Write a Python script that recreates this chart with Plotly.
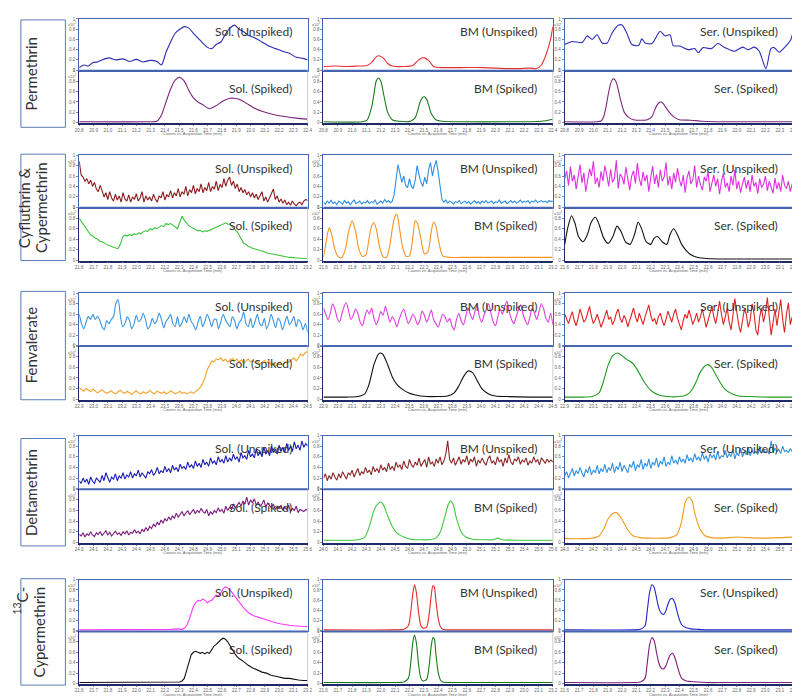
import numpy as np
import plotly.graph_objects as go

# ---------------- data (x in % of the time window, y as fraction of full scale) ----------------
row_names = ["Permethrin", "Cyfluthrin &|Cypermethrin", "Fenvalerate", "Deltamethrin", "<sup>13</sup>C-|Cypermethrin"]
sample_names = ["Sol.", "BM", "Ser."]
conditions = ["Unspiked", "Spiked"]
time_windows = [(20.8, 22.4), (21.6, 23.2), (22.9, 24.5), (24.0, 25.6), (21.6, 23.2)]

# Permethrin
perm_sol_u_x = [0, 2, 4, 6, 8, 10, 13, 16, 19, 22, 25, 28, 31, 34, 36, 38, 40, 42, 44, 46, 48, 50, 53, 56, 58, 60,
                62, 64, 66, 68, 70, 72, 74, 77, 80, 83, 86, 89, 92, 95, 98, 100]
perm_sol_u_y = [0.05, 0.1, 0.08, 0.15, 0.16, 0.2, 0.24, 0.2, 0.22, 0.17, 0.21, 0.16, 0.19, 0.17, 0.1, 0.35, 0.55,
                0.72, 0.8, 0.85, 0.82, 0.72, 0.58, 0.45, 0.42, 0.5, 0.55, 0.7, 0.82, 0.88, 0.8, 0.75, 0.68, 0.63,
                0.55, 0.47, 0.42, 0.37, 0.33, 0.25, 0.23, 0.2]
perm_sol_s_x = [0, 30, 34, 36, 38, 40, 42, 44, 46, 48, 50, 52, 54, 57, 60, 63, 66, 68, 70, 73, 76, 80, 85, 90, 95, 100]
perm_sol_s_y = [0.02, 0.02, 0.03, 0.15, 0.4, 0.65, 0.82, 0.87, 0.8, 0.62, 0.48, 0.4, 0.35, 0.27, 0.33, 0.42, 0.47,
                0.47, 0.45, 0.38, 0.3, 0.22, 0.16, 0.12, 0.09, 0.07]
perm_bm_u_x = [0, 5, 10, 15, 19, 21, 23, 24, 26, 28, 30, 35, 39, 41, 43, 44, 46, 48, 50, 55, 60, 70, 80, 85, 90, 93,
               95, 97, 99, 100]
perm_bm_u_y = [0.07, 0.08, 0.07, 0.08, 0.09, 0.15, 0.26, 0.28, 0.24, 0.13, 0.08, 0.07, 0.09, 0.18, 0.24, 0.24, 0.18,
               0.07, 0.05, 0.05, 0.05, 0.05, 0.03, 0.03, 0.04, 0.03, 0.1, 0.3, 0.6, 0.85]
perm_bm_s_x = [0, 17, 19, 21, 22, 23, 24, 25, 26, 27, 28, 30, 33, 38, 40, 41, 42, 43, 44, 45, 46, 47, 49, 52, 60,
               80, 95, 100]
perm_bm_s_y = [0.02, 0.02, 0.05, 0.3, 0.55, 0.8, 0.86, 0.8, 0.6, 0.38, 0.2, 0.06, 0.03, 0.03, 0.1, 0.22, 0.38, 0.48,
               0.5, 0.45, 0.32, 0.18, 0.06, 0.03, 0.02, 0.02, 0.03, 0.07]
perm_ser_u_x = [0, 3.3, 7.6, 9.8, 12, 14.1, 16.3, 18.5, 20.6, 23.5, 25, 27.1, 29.3, 32.2, 33.6, 35.1, 38, 41.6,
                43.7, 45.9, 47.3, 50.2, 53.8, 56.7, 58.2, 60.3, 63.9, 66.8, 69.7, 74, 77.6, 79.8, 82.7, 84.8, 87.7,
                89.9, 91.3, 93.5, 96.4, 98.6, 100]
perm_ser_u_y = [0.5, 0.56, 0.54, 0.67, 0.6, 0.69, 0.53, 0.53, 0.72, 0.88, 0.88, 0.72, 0.5, 0.48, 0.61, 0.53, 0.52,
                0.76, 0.67, 0.69, 0.48, 0.47, 0.4, 0.42, 0.34, 0.44, 0.42, 0.52, 0.44, 0.37, 0.45, 0.4, 0.45, 0.37,
                0.03, 0.42, 0.44, 0.35, 0.47, 0.6, 0.85]
perm_ser_s_x = [0, 14, 16, 17, 18, 19, 20, 21, 22, 23, 24, 25, 26, 28, 30, 33, 36, 38, 39, 40, 41, 42, 43, 44, 46,
                48, 50, 55, 60, 70, 100]
perm_ser_s_y = [0.02, 0.02, 0.04, 0.12, 0.3, 0.55, 0.75, 0.84, 0.82, 0.7, 0.5, 0.33, 0.2, 0.1, 0.06, 0.05, 0.06,
                0.12, 0.22, 0.32, 0.38, 0.4, 0.37, 0.3, 0.18, 0.1, 0.06, 0.05, 0.03, 0.02, 0.02]

# Cyfluthrin & Cypermethrin
cyf_sol_u_y = [0.88, 0.62, 0.58, 0.5, 0.55, 0.45, 0.52, 0.4, 0.48, 0.35, 0.3, 0.42,
               0.32, 0.2, 0.28, 0.15, 0.3, 0.18, 0.12, 0.25, 0.14, 0.22, 0.1, 0.28,
               0.16, 0.12, 0.24, 0.1, 0.2, 0.15, 0.26, 0.12, 0.18, 0.3, 0.1, 0.22,
               0.14, 0.2, 0.12, 0.25, 0.16, 0.1, 0.22, 0.18, 0.3, 0.14, 0.24, 0.2,
               0.32, 0.18, 0.28, 0.22, 0.36, 0.2, 0.3, 0.25, 0.4, 0.22, 0.34, 0.28,
               0.42, 0.26, 0.36, 0.3, 0.45, 0.28, 0.38, 0.32, 0.48, 0.3, 0.4, 0.35,
               0.5, 0.32, 0.44, 0.38, 0.55, 0.4, 0.52, 0.58, 0.42, 0.5, 0.36, 0.45,
               0.3, 0.38, 0.28, 0.34, 0.24, 0.3, 0.2, 0.28, 0.18, 0.25, 0.15, 0.22,
               0.3, 0.12, 0.2, 0.1, 0.18, 0.26, 0.35, 0.15, 0.22, 0.1, 0.16, 0.08,
               0.14, 0.05, 0.1, 0.04, 0.12, 0.06, 0.03, 0.08, 0.1, 0.05, 0.12, 0.15, 0.13]
cyf_sol_s_y = [0.8, 0.74, 0.66, 0.6, 0.55, 0.48, 0.46, 0.42, 0.4, 0.36,
               0.35, 0.32, 0.3, 0.28, 0.26, 0.25, 0.23, 0.22, 0.3, 0.44,
               0.48, 0.46, 0.49, 0.47, 0.5, 0.49, 0.52, 0.5, 0.54, 0.56,
               0.55, 0.6, 0.58, 0.62, 0.6, 0.63, 0.66, 0.64, 0.7, 0.68,
               0.7, 0.67, 0.64, 0.6, 0.72, 0.84, 0.76, 0.7, 0.66, 0.63,
               0.6, 0.58, 0.56, 0.57, 0.54, 0.56, 0.55, 0.57, 0.6, 0.62,
               0.64, 0.66, 0.68, 0.7, 0.71, 0.69, 0.68, 0.64, 0.6, 0.55,
               0.48, 0.4, 0.32, 0.3, 0.26, 0.25, 0.22, 0.21, 0.2, 0.18,
               0.17, 0.16, 0.14, 0.13, 0.12, 0.11, 0.1, 0.09, 0.08, 0.07,
               0.06, 0.06, 0.05, 0.05, 0.04, 0.04, 0.04, 0.03, 0.03, 0.03, 0.03]
cyf_bm_u_y = [0.1, 0.06, 0.12, 0.08, 0.14, 0.07, 0.1, 0.05, 0.12, 0.09, 0.06, 0.13,
              0.08, 0.11, 0.05, 0.1, 0.14, 0.07, 0.09, 0.12, 0.06, 0.1, 0.08, 0.13,
              0.07, 0.11, 0.09, 0.14, 0.06, 0.1, 0.12, 0.08, 0.15, 0.1, 0.13, 0.09,
              0.12, 0.25, 0.6, 0.82, 0.65, 0.48, 0.6, 0.42, 0.38, 0.55, 0.4, 0.36,
              0.52, 0.8, 0.62, 0.48, 0.4, 0.58, 0.45, 0.72, 0.86, 0.6, 0.78, 0.9,
              0.68, 0.35, 0.15, 0.1, 0.14, 0.08, 0.12, 0.1, 0.06, 0.11, 0.09, 0.13,
              0.07, 0.1, 0.12, 0.08, 0.11, 0.06, 0.1, 0.13, 0.08, 0.11, 0.07, 0.12,
              0.09, 0.13, 0.08, 0.1, 0.12, 0.07, 0.11, 0.09, 0.14, 0.08, 0.1, 0.12,
              0.07, 0.11, 0.13, 0.09, 0.12, 0.08, 0.1, 0.14, 0.09, 0.12, 0.1, 0.13,
              0.08, 0.12, 0.1, 0.14, 0.09, 0.11, 0.13, 0.1, 0.12, 0.09, 0.13, 0.11, 0.12]
cyf_bm_s_x = [0, 1, 2, 2.6, 3.5, 5, 6.5, 8, 9.5, 11, 12.5, 14, 15.5, 17, 18.5, 20, 21, 22, 23, 24.5, 26, 27.5, 29,
              30, 31, 32, 33, 34.5, 36, 37.5, 39, 40, 41, 42.5, 44, 45.5, 47, 48, 49, 50.5, 52, 55, 60, 100]
cyf_bm_s_y = [0.05, 0.3, 0.55, 0.62, 0.5, 0.2, 0.06, 0.05, 0.2, 0.55, 0.75, 0.55, 0.2, 0.07, 0.1, 0.45, 0.65, 0.72,
              0.6, 0.25, 0.06, 0.05, 0.3, 0.6, 0.82, 0.88, 0.65, 0.25, 0.07, 0.08, 0.45, 0.75, 0.7, 0.4, 0.12, 0.15,
              0.55, 0.73, 0.65, 0.3, 0.08, 0.05, 0.05, 0.05]
cyf_ser_u_y = [0.55, 0.7, 0.42, 0.78, 0.5, 0.62, 0.35, 0.58, 0.82, 0.47, 0.66, 0.3,
               0.52, 0.74, 0.6, 0.88, 0.45, 0.57, 0.38, 0.69, 0.5, 0.8, 0.62, 0.4,
               0.73, 0.48, 0.55, 0.9, 0.36, 0.64, 0.58, 0.44, 0.77, 0.52, 0.33, 0.6,
               0.7, 0.46, 0.85, 0.55, 0.41, 0.68, 0.5, 0.62, 0.3, 0.57, 0.79, 0.45,
               0.63, 0.38, 0.72, 0.5, 0.58, 0.86, 0.42, 0.6, 0.35, 0.66, 0.48, 0.75,
               0.53, 0.4, 0.62, 0.28, 0.57, 0.7, 0.45, 0.52, 0.8, 0.38, 0.6, 0.44,
               0.33, 0.58, 0.5, 0.68, 0.3, 0.46, 0.62, 0.4, 0.55, 0.25, 0.5, 0.65,
               0.38, 0.47, 0.3, 0.6, 0.42, 0.72, 0.35, 0.5, 0.28, 0.45, 0.58, 0.36,
               0.52, 0.3, 0.62, 0.4, 0.48, 0.26, 0.55, 0.38, 0.44, 0.6, 0.32, 0.5,
               0.4, 0.27, 0.56, 0.35, 0.48, 0.3, 0.62, 0.42, 0.36, 0.5, 0.3, 0.45, 0.4]
cyf_ser_s_x = [0, 1.5, 3, 4.5, 6, 8, 10, 11.5, 13.4, 15, 17, 19, 21, 22.8, 24.5, 26.5, 28.5, 30.5, 32, 33.5, 35.5,
               37.5, 39, 40.5, 42.5, 44.5, 46, 47.5, 49, 51, 53, 55, 58, 62, 70, 100]
cyf_ser_s_y = [0.3, 0.65, 0.85, 0.7, 0.45, 0.35, 0.5, 0.72, 0.82, 0.68, 0.42, 0.32, 0.45, 0.65, 0.55, 0.35, 0.3,
               0.5, 0.73, 0.6, 0.35, 0.3, 0.42, 0.45, 0.35, 0.3, 0.5, 0.6, 0.5, 0.3, 0.18, 0.1, 0.05, 0.03, 0.02,
               0.02]

# Fenvalerate
fen_sol_u_y = [0.6, 0.42, 0.32, 0.45, 0.56, 0.5, 0.6, 0.5, 0.56, 0.48,
               0.36, 0.3, 0.48, 0.42, 0.5, 0.55, 0.8, 0.88, 0.58, 0.36,
               0.42, 0.55, 0.48, 0.32, 0.42, 0.58, 0.46, 0.5, 0.62, 0.5,
               0.32, 0.38, 0.52, 0.42, 0.48, 0.62, 0.5, 0.34, 0.46, 0.52,
               0.6, 0.42, 0.36, 0.55, 0.36, 0.44, 0.55, 0.44, 0.6, 0.46,
               0.4, 0.3, 0.44, 0.56, 0.36, 0.46, 0.6, 0.5, 0.36, 0.5,
               0.5, 0.32, 0.46, 0.6, 0.5, 0.42, 0.36, 0.55, 0.48, 0.32,
               0.44, 0.5, 0.64, 0.42, 0.36, 0.52, 0.34, 0.46, 0.6, 0.42,
               0.38, 0.52, 0.32, 0.42, 0.6, 0.48, 0.34, 0.52, 0.46, 0.3,
               0.44, 0.56, 0.4, 0.46, 0.56, 0.36, 0.5, 0.44, 0.3, 0.42, 0.25]
fen_sol_s_y = [0.22, 0.18, 0.15, 0.2, 0.17, 0.14, 0.19, 0.16, 0.12, 0.15,
               0.18, 0.14, 0.11, 0.13, 0.16, 0.12, 0.1, 0.14, 0.17, 0.13,
               0.11, 0.15, 0.12, 0.09, 0.13, 0.16, 0.12, 0.1, 0.14, 0.11,
               0.13, 0.17, 0.12, 0.1, 0.15, 0.13, 0.11, 0.14, 0.1, 0.12,
               0.16, 0.13, 0.1, 0.12, 0.15, 0.11, 0.13, 0.1, 0.12, 0.14,
               0.11, 0.15, 0.18, 0.22, 0.3, 0.4, 0.55, 0.65, 0.72, 0.7,
               0.76, 0.74, 0.78, 0.72, 0.75, 0.7, 0.73, 0.77, 0.72, 0.75,
               0.7, 0.74, 0.68, 0.72, 0.76, 0.7, 0.73, 0.69, 0.72, 0.66,
               0.7, 0.73, 0.68, 0.72, 0.65, 0.68, 0.62, 0.66, 0.7, 0.65,
               0.68, 0.72, 0.7, 0.75, 0.78, 0.72, 0.8, 0.85, 0.82, 0.88, 0.9]
fen_bm_u_y = [0.72, 0.6, 0.5, 0.62, 0.8, 0.7, 0.52, 0.45, 0.6, 0.75,
              0.82, 0.65, 0.5, 0.58, 0.7, 0.62, 0.45, 0.38, 0.55, 0.68,
              0.6, 0.72, 0.52, 0.4, 0.5, 0.65, 0.58, 0.75, 0.6, 0.45,
              0.55, 0.48, 0.36, 0.5, 0.62, 0.7, 0.55, 0.42, 0.5, 0.6,
              0.52, 0.4, 0.48, 0.66, 0.58, 0.45, 0.55, 0.68, 0.5, 0.42,
              0.35, 0.48, 0.6, 0.55, 0.45, 0.52, 0.38, 0.3, 0.5, 0.62,
              0.48, 0.4, 0.55, 0.72, 0.6, 0.5, 0.65, 0.78, 0.55, 0.45,
              0.58, 0.7, 0.8, 0.62, 0.45, 0.38, 0.55, 0.7, 0.6, 0.75,
              0.85, 0.65, 0.5, 0.42, 0.55, 0.68, 0.78, 0.6, 0.48, 0.4,
              0.55, 0.72, 0.62, 0.5, 0.66, 0.8, 0.7, 0.52, 0.45, 0.62, 0.4]
fen_bm_s_x = [0, 10, 15, 18, 20, 22, 24, 25, 26, 28, 30, 32, 34, 37, 40, 45, 50, 54, 57, 59, 61, 63, 65, 67, 69, 72,
              75, 80, 90, 100]
fen_bm_s_y = [0.04, 0.04, 0.05, 0.1, 0.3, 0.65, 0.85, 0.87, 0.84, 0.65, 0.42, 0.28, 0.2, 0.12, 0.08, 0.05, 0.05,
              0.06, 0.12, 0.25, 0.42, 0.53, 0.5, 0.35, 0.2, 0.1, 0.06, 0.05, 0.04, 0.04]
fen_ser_u_y = [0.6, 0.5, 0.42, 0.55, 0.65, 0.48, 0.38, 0.52, 0.7, 0.58, 0.45, 0.5,
               0.62, 0.75, 0.55, 0.42, 0.5, 0.6, 0.48, 0.35, 0.45, 0.58, 0.68, 0.5,
               0.55, 0.4, 0.48, 0.62, 0.7, 0.52, 0.44, 0.58, 0.5, 0.36, 0.48, 0.6,
               0.72, 0.55, 0.45, 0.62, 0.5, 0.4, 0.55, 0.65, 0.78, 0.58, 0.46, 0.52,
               0.4, 0.55, 0.62, 0.48, 0.38, 0.5, 0.66, 0.55, 0.45, 0.6, 0.7, 0.52,
               0.42, 0.3, 0.48, 0.6, 0.52, 0.68, 0.55, 0.4, 0.5, 0.62, 0.45, 0.55,
               0.7, 0.5, 0.35, 0.48, 0.6, 0.75, 0.55, 0.42, 0.62, 0.85, 0.6, 0.4,
               0.55, 0.72, 0.45, 0.3, 0.58, 0.9, 0.65, 0.4, 0.25, 0.5, 0.7, 0.6,
               0.35, 0.48, 0.8, 0.62, 0.3, 0.2, 0.55, 0.72, 0.45, 0.62, 0.92, 0.55,
               0.2, 0.45, 0.7, 0.38, 0.6, 0.88, 0.5, 0.25, 0.6, 0.82, 0.4, 0.55, 0.35]
fen_ser_s_x = [0, 8, 12, 15, 17, 19, 21, 23, 25, 27, 29, 31, 33, 35, 38, 41, 45, 50, 53, 55, 57, 59, 61, 62.5, 64,
               66, 68, 70, 73, 76, 80, 90, 100]
fen_ser_s_y = [0.04, 0.04, 0.05, 0.12, 0.35, 0.65, 0.82, 0.87, 0.82, 0.75, 0.7, 0.6, 0.45, 0.3, 0.15, 0.08, 0.05,
               0.05, 0.08, 0.15, 0.3, 0.5, 0.62, 0.65, 0.6, 0.45, 0.3, 0.18, 0.1, 0.06, 0.05, 0.04, 0.04]

# Deltamethrin
del_sol_u_y = [0.15, 0.1, 0.2, 0.12, 0.18, 0.08, 0.22, 0.14, 0.1, 0.2, 0.16, 0.12,
               0.25, 0.15, 0.3, 0.2, 0.12, 0.22, 0.18, 0.28, 0.15, 0.24, 0.2, 0.3,
               0.18, 0.26, 0.22, 0.32, 0.2, 0.28, 0.24, 0.35, 0.22, 0.3, 0.26, 0.2,
               0.32, 0.28, 0.36, 0.25, 0.3, 0.4, 0.28, 0.34, 0.3, 0.42, 0.32, 0.38,
               0.3, 0.44, 0.35, 0.4, 0.32, 0.46, 0.38, 0.42, 0.36, 0.5, 0.4, 0.45,
               0.38, 0.52, 0.42, 0.48, 0.4, 0.55, 0.45, 0.5, 0.42, 0.58, 0.48, 0.52,
               0.45, 0.6, 0.5, 0.55, 0.48, 0.62, 0.5, 0.58, 0.52, 0.65, 0.55, 0.6,
               0.5, 0.68, 0.58, 0.62, 0.55, 0.72, 0.6, 0.65, 0.58, 0.75, 0.62, 0.7,
               0.6, 0.78, 0.65, 0.72, 0.62, 0.8, 0.68, 0.75, 0.65, 0.82, 0.7, 0.78,
               0.68, 0.85, 0.72, 0.8, 0.7, 0.88, 0.75, 0.82, 0.72, 0.9, 0.78, 0.85, 0.8]
del_sol_s_y = [0.15, 0.12, 0.18, 0.1, 0.16, 0.13, 0.2, 0.14, 0.11, 0.18, 0.15, 0.2,
               0.13, 0.17, 0.22, 0.14, 0.19, 0.12, 0.16, 0.21, 0.15, 0.18, 0.13, 0.2,
               0.16, 0.22, 0.14, 0.19, 0.17, 0.24, 0.18, 0.21, 0.16, 0.25, 0.2, 0.28,
               0.22, 0.3, 0.26, 0.34, 0.3, 0.38, 0.33, 0.42, 0.36, 0.45, 0.4, 0.48,
               0.42, 0.5, 0.45, 0.55, 0.47, 0.52, 0.58, 0.5, 0.55, 0.6, 0.52, 0.57,
               0.62, 0.54, 0.6, 0.56, 0.64, 0.58, 0.55, 0.62, 0.5, 0.58, 0.53, 0.6,
               0.56, 0.65, 0.58, 0.62, 0.55, 0.68, 0.6, 0.66, 0.62, 0.72, 0.65, 0.7,
               0.75, 0.68, 0.78, 0.72, 0.85, 0.7, 0.8, 0.74, 0.82, 0.7, 0.76, 0.68,
               0.72, 0.8, 0.66, 0.74, 0.7, 0.65, 0.72, 0.62, 0.68, 0.64, 0.7, 0.6,
               0.66, 0.62, 0.7, 0.58, 0.64, 0.6, 0.68, 0.56, 0.62, 0.6, 0.58, 0.62, 0.6]
del_bm_u_y = [0.2, 0.28, 0.15, 0.25, 0.18, 0.3, 0.22, 0.16, 0.28, 0.2, 0.32, 0.24,
              0.18, 0.3, 0.26, 0.35, 0.22, 0.3, 0.38, 0.25, 0.32, 0.28, 0.4, 0.3,
              0.35, 0.26, 0.42, 0.32, 0.38, 0.3, 0.45, 0.35, 0.4, 0.32, 0.48, 0.36,
              0.42, 0.34, 0.5, 0.4, 0.45, 0.36, 0.52, 0.42, 0.38, 0.55, 0.45, 0.4,
              0.5, 0.44, 0.58, 0.42, 0.48, 0.55, 0.4, 0.6, 0.46, 0.5, 0.42, 0.56,
              0.48, 0.6, 0.45, 0.52, 0.65, 0.9, 0.55, 0.48, 0.58, 0.44, 0.52, 0.6,
              0.46, 0.55, 0.5, 0.62, 0.45, 0.56, 0.5, 0.6, 0.42, 0.54, 0.48, 0.58,
              0.5, 0.44, 0.56, 0.62, 0.48, 0.52, 0.45, 0.6, 0.5, 0.55, 0.42, 0.58,
              0.48, 0.64, 0.5, 0.45, 0.56, 0.52, 0.6, 0.46, 0.54, 0.5, 0.58, 0.44,
              0.52, 0.48, 0.6, 0.5, 0.55, 0.45, 0.58, 0.52, 0.48, 0.56, 0.5, 0.54, 0.5]
del_bm_s_x = [0, 10, 15, 18, 20, 22, 24, 25, 26, 28, 30, 32, 35, 38, 42, 46, 49, 51, 53, 54.5, 55.5, 56.5, 58, 60,
              62, 65, 70, 74, 76, 78, 85, 100]
del_bm_s_y = [0.04, 0.04, 0.05, 0.1, 0.3, 0.6, 0.74, 0.76, 0.72, 0.5, 0.3, 0.18, 0.1, 0.06, 0.05, 0.05, 0.08, 0.2,
              0.5, 0.72, 0.78, 0.72, 0.45, 0.2, 0.1, 0.06, 0.05, 0.05, 0.08, 0.05, 0.04, 0.04]
del_ser_u_y = [0.25, 0.32, 0.2, 0.3, 0.38, 0.24, 0.34, 0.28, 0.4, 0.3, 0.22, 0.36,
               0.3, 0.42, 0.26, 0.35, 0.3, 0.44, 0.28, 0.38, 0.32, 0.46, 0.3, 0.4,
               0.34, 0.48, 0.3, 0.42, 0.36, 0.5, 0.32, 0.44, 0.38, 0.3, 0.46, 0.4,
               0.52, 0.34, 0.45, 0.4, 0.55, 0.36, 0.48, 0.42, 0.56, 0.38, 0.5, 0.44,
               0.58, 0.4, 0.52, 0.46, 0.6, 0.42, 0.5, 0.45, 0.62, 0.48, 0.54, 0.46,
               0.6, 0.5, 0.56, 0.48, 0.64, 0.52, 0.58, 0.5, 0.66, 0.54, 0.6, 0.52,
               0.68, 0.55, 0.62, 0.5, 0.66, 0.58, 0.64, 0.54, 0.7, 0.56, 0.62, 0.6,
               0.72, 0.58, 0.66, 0.6, 0.74, 0.56, 0.68, 0.62, 0.76, 0.6, 0.7, 0.64,
               0.78, 0.62, 0.72, 0.66, 0.7, 0.64, 0.8, 0.66, 0.74, 0.68, 0.72, 0.65,
               0.9, 0.68, 0.76, 0.7, 0.74, 0.66, 0.8, 0.7, 0.72, 0.68, 0.75, 0.7, 0.72]
del_ser_s_x = [0, 8, 12, 15, 17, 19, 21, 22.5, 24, 26, 28, 30, 33, 37, 42, 46, 49, 51, 52.5, 54, 55.5, 57, 59, 61,
               64, 68, 75, 85, 100]
del_ser_s_y = [0.07, 0.07, 0.08, 0.12, 0.25, 0.45, 0.55, 0.56, 0.5, 0.35, 0.2, 0.12, 0.09, 0.08, 0.08, 0.09, 0.15,
               0.4, 0.75, 0.85, 0.78, 0.5, 0.25, 0.13, 0.09, 0.08, 0.1, 0.08, 0.1]

# 13C-Cypermethrin
c13_sol_u_x = [0, 10, 20, 30, 40, 43, 44, 45, 46, 47, 48, 49, 50, 51, 52, 53, 54, 55, 56, 57, 58, 59, 60, 61, 62,
               63, 64, 65, 66, 67, 68, 69, 70, 71, 72, 73, 74, 76, 78, 80, 82, 84, 86, 88, 90, 92, 94, 96, 98, 100]
c13_sol_u_y = [0.02, 0.02, 0.02, 0.02, 0.03, 0.04, 0.03, 0.03, 0.05, 0.1, 0.2, 0.35, 0.48, 0.55, 0.6, 0.58, 0.62,
               0.6, 0.55, 0.58, 0.6, 0.65, 0.7, 0.68, 0.75, 0.82, 0.86, 0.84, 0.8, 0.74, 0.68, 0.62, 0.55, 0.5, 0.45,
               0.4, 0.36, 0.3, 0.27, 0.24, 0.21, 0.18, 0.16, 0.14, 0.12, 0.11, 0.1, 0.09, 0.08, 0.08]
c13_sol_s_x = [0, 20, 30, 35, 40, 42, 44, 45, 46, 47, 48, 49, 50, 51, 52, 53, 54, 55, 56, 57, 58, 59, 60, 61, 62,
               63, 64, 65, 66, 67, 68, 69, 70, 72, 74, 76, 78, 80, 82, 84, 86, 88, 90, 92, 94, 96, 98, 100]
c13_sol_s_y = [0.02, 0.02, 0.03, 0.02, 0.03, 0.02, 0.03, 0.05, 0.1, 0.25, 0.4, 0.55, 0.6, 0.62, 0.6, 0.58, 0.6,
               0.57, 0.6, 0.58, 0.65, 0.72, 0.75, 0.8, 0.84, 0.87, 0.85, 0.8, 0.72, 0.65, 0.58, 0.52, 0.48, 0.42,
               0.35, 0.3, 0.26, 0.22, 0.2, 0.16, 0.14, 0.12, 0.1, 0.1, 0.08, 0.07, 0.06, 0.06]
c13_bm_u_x = [0, 30, 35, 37, 38, 39, 39.7, 40.5, 41.5, 42.5, 43.5, 45, 46, 47, 47.7, 48.3, 49, 50, 51, 52, 55, 60,
              100]
c13_bm_u_y = [0.02, 0.02, 0.03, 0.1, 0.35, 0.75, 0.9, 0.75, 0.35, 0.1, 0.05, 0.08, 0.3, 0.7, 0.88, 0.86, 0.6, 0.25,
              0.08, 0.03, 0.02, 0.02, 0.02]
c13_bm_s_x = [0, 30, 35, 37, 38, 39, 39.7, 40.5, 41.5, 42.5, 43.5, 45, 46, 47, 47.7, 48.3, 49, 50, 51, 52, 55, 60,
              100]
c13_bm_s_y = [0.02, 0.02, 0.03, 0.1, 0.38, 0.8, 0.93, 0.78, 0.35, 0.1, 0.05, 0.08, 0.32, 0.72, 0.88, 0.86, 0.58,
              0.22, 0.07, 0.03, 0.02, 0.02, 0.02]
c13_ser_u_x = [0, 30, 33, 35, 36, 37, 38, 39, 40, 41, 42, 43, 44, 45, 46, 47, 48, 49, 50, 51, 53, 55, 58, 62, 70, 100]
c13_ser_u_y = [0.02, 0.02, 0.03, 0.1, 0.4, 0.75, 0.9, 0.85, 0.65, 0.45, 0.35, 0.32, 0.38, 0.52, 0.62, 0.63, 0.55,
               0.38, 0.22, 0.12, 0.06, 0.04, 0.03, 0.02, 0.02, 0.02]
c13_ser_s_x = [0, 30, 33, 35, 36, 37, 38, 39, 40, 41, 42, 43, 44, 45, 46, 47, 48, 49, 50, 51, 53, 55, 58, 62, 70, 100]
c13_ser_s_y = [0.02, 0.02, 0.03, 0.1, 0.4, 0.74, 0.88, 0.82, 0.6, 0.4, 0.3, 0.28, 0.33, 0.45, 0.55, 0.58, 0.5,
               0.35, 0.2, 0.1, 0.05, 0.04, 0.03, 0.02, 0.02, 0.02]

# (row, column, sub-panel) -> (x, y, colour, smooth)
series = {
    (0, 0, 0): (perm_sol_u_x, perm_sol_u_y, "#2b2bb0", True),
    (0, 0, 1): (perm_sol_s_x, perm_sol_s_y, "#7e237e", True),
    (0, 1, 0): (perm_bm_u_x, perm_bm_u_y, "#e83232", True),
    (0, 1, 1): (perm_bm_s_x, perm_bm_s_y, "#1c7a1c", True),
    (0, 2, 0): (perm_ser_u_x, perm_ser_u_y, "#2e2eb8", True),
    (0, 2, 1): (perm_ser_s_x, perm_ser_s_y, "#7e2a7e", True),
    (1, 0, 0): (None, cyf_sol_u_y, "#8b1c1c", False),
    (1, 0, 1): (None, cyf_sol_s_y, "#3cc43c", False),
    (1, 1, 0): (None, cyf_bm_u_y, "#2e8fe6", False),
    (1, 1, 1): (cyf_bm_s_x, cyf_bm_s_y, "#f5931e", True),
    (1, 2, 0): (None, cyf_ser_u_y, "#e02ee0", False),
    (1, 2, 1): (cyf_ser_s_x, cyf_ser_s_y, "#111111", True),
    (2, 0, 0): (None, fen_sol_u_y, "#3a94e0", True),
    (2, 0, 1): (None, fen_sol_s_y, "#f4a12a", False),
    (2, 1, 0): (None, fen_bm_u_y, "#e03ee0", True),
    (2, 1, 1): (fen_bm_s_x, fen_bm_s_y, "#111111", True),
    (2, 2, 0): (None, fen_ser_u_y, "#e02424", False),
    (2, 2, 1): (fen_ser_s_x, fen_ser_s_y, "#1f9a1f", True),
    (3, 0, 0): (None, del_sol_u_y, "#1c1cb4", False),
    (3, 0, 1): (None, del_sol_s_y, "#7a1a7a", False),
    (3, 1, 0): (None, del_bm_u_y, "#8b2626", False),
    (3, 1, 1): (del_bm_s_x, del_bm_s_y, "#3cca3c", True),
    (3, 2, 0): (None, del_ser_u_y, "#3090e0", False),
    (3, 2, 1): (del_ser_s_x, del_ser_s_y, "#f39c1e", True),
    (4, 0, 0): (c13_sol_u_x, c13_sol_u_y, "#ff38ff", False),
    (4, 0, 1): (c13_sol_s_x, c13_sol_s_y, "#111111", False),
    (4, 1, 0): (c13_bm_u_x, c13_bm_u_y, "#e82a2a", True),
    (4, 1, 1): (c13_bm_s_x, c13_bm_s_y, "#1a7a1a", True),
    (4, 2, 0): (c13_ser_u_x, c13_ser_u_y, "#2323c8", True),
    (4, 2, 1): (c13_ser_s_x, c13_ser_s_y, "#7b1f7b", True),
}

# ---------------- layout (pixels of the 800x696 page) ----------------
W, H = 800, 696
COLS = [(68, 299), (315, 547), (559, 791)]
ROWS = [(9, 61, 114), (146, 199, 252), (285, 338, 392), (428, 482, 536), (573, 625, 678)]
BOXES = [(10, 118), (145, 252), (283, 392), (431, 539), (572, 679)]
FRAME = "#4565b0"
AXIS = "#1e2a6a"
TINY = dict(family="Liberation Sans", size=4.5, color="#666666")
TITLEFONT = dict(family="Liberation Sans", size=4, color="#666666")
LABELFONT = dict(family="Lato", size=12, color="#333333")
NAMEFONT = dict(family="Lato", size=15, color="#333333")


def px(x):
    return x / W


def py(y):
    return 1 - y / H


fig = go.Figure()
layout = {}
shapes = []
annotations = []

for r, (top, mid, bot) in enumerate(ROWS):
    t0, t1 = time_windows[r]
    for c, (left, right) in enumerate(COLS):
        for s in (0, 1):
            k = r * 6 + c * 2 + s + 1
            xs, ys, color, smooth = series[(r, c, s)]
            xs = np.linspace(0, 100, len(ys)) if xs is None else np.asarray(xs, float)
            t = t0 + xs / 100 * (t1 - t0)
            fig.add_trace(go.Scatter(
                x=t, y=ys, mode="lines", xaxis=f"x{k}", yaxis=f"y{k}", hoverinfo="skip",
                line=dict(color=color, width=1.1, shape="spline" if smooth else "linear", smoothing=0.7),
            ))
            y0, y1 = (mid, top) if s == 0 else (bot, mid)
            xa = dict(domain=[px(left), px(right)], range=[t0, t1], anchor=f"y{k}", showgrid=False,
                      zeroline=False, dtick=0.1, tickformat=".1f", tickfont=TINY)
            ya = dict(domain=[py(y0), py(y1)], range=[-0.01, 1.0], anchor=f"x{k}", showgrid=False,
                      zeroline=False, tick0=0.2, dtick=0.2, tickfont=TINY, ticks="outside", ticklen=2,
                      tickwidth=0.5, tickcolor="#888888", showticklabels=True)
            if s == 0:
                xa.update(showline=True, mirror=True, linecolor=FRAME, linewidth=1.3,
                          showticklabels=False, ticks="")
                ya.update(showline=True, mirror=True, linecolor=FRAME, linewidth=1.3)
            else:
                xa.update(showline=True, linecolor=AXIS, linewidth=1.6, ticks="outside", ticklen=1,
                          tickwidth=0.5, tickcolor="#888888", showticklabels=True)
                ya.update(showline=True, linecolor=AXIS, linewidth=1.3)
                shapes.append(dict(type="line", xref="paper", yref="paper", x0=px(right), x1=px(right),
                                   y0=py(bot), y1=py(mid), line=dict(color="#cfcfcf", width=1)))
            layout["xaxis" if k == 1 else f"xaxis{k}"] = xa
            layout["yaxis" if k == 1 else f"yaxis{k}"] = ya

            # tiny scale marker at the top-left corner
            annotations.append(dict(text="x10<sup>2</sup>", xref="paper", yref="paper", x=px(left - 1),
                                    y=py(y1 + 0.5), xanchor="right", yanchor="top", showarrow=False,
                                    font=TITLEFONT))
            # sample label
            ly = top + 13 if s == 0 else mid + 18
            annotations.append(dict(text=f"{sample_names[c]} ({conditions[s]})", xref="paper", yref="paper",
                                    x=px(right - 14), y=py(ly), xanchor="right", yanchor="middle",
                                    showarrow=False, font=LABELFONT))

        # divider between the two traces
        shapes.append(dict(type="line", xref="paper", yref="paper", x0=px(left), x1=px(right),
                           y0=py(mid), y1=py(mid), line=dict(color=FRAME, width=2)))
        annotations.append(dict(text="Counts vs. Acquisition Time (min)", xref="paper", yref="paper",
                                x=px((left + right) / 2), y=py(bot + 6.5), xanchor="center", yanchor="top",
                                showarrow=False, borderpad=0, font=TITLEFONT))

    # compound name box
    b0, b1 = BOXES[r]
    shapes.append(dict(type="rect", xref="paper", yref="paper", x0=px(9), x1=px(54), y0=py(b1), y1=py(b0),
                       line=dict(color="#5b7bb5", width=1)))
    lines = row_names[r].split("|")
    mid_y = (b0 + b1) / 2
    # x values are the anchor points; rotated text renders somewhat right of its anchor
    if len(lines) == 1:
        placed = [(lines[0], 19, mid_y, "middle")]
    elif r == 4:
        placed = [(lines[0], 9, b0 + 6, "top"), (lines[1], 27, mid_y, "middle")]
    else:
        placed = [(lines[0], 13, mid_y, "middle"), (lines[1], 30, mid_y, "middle")]
    for text, tx, ty, yanc in placed:
        annotations.append(dict(text=text, xref="paper", yref="paper", x=px(tx), y=py(ty),
                                xanchor="center", yanchor=yanc, textangle=-90, showarrow=False,
                                font=NAMEFONT))

fig.update_layout(**layout)
fig.update_layout(
    width=W, height=H, margin=dict(l=0, r=0, t=0, b=0),
    paper_bgcolor="white", plot_bgcolor="white", showlegend=False,
    shapes=shapes, annotations=annotations,
)

fig.write_html("out.html")
